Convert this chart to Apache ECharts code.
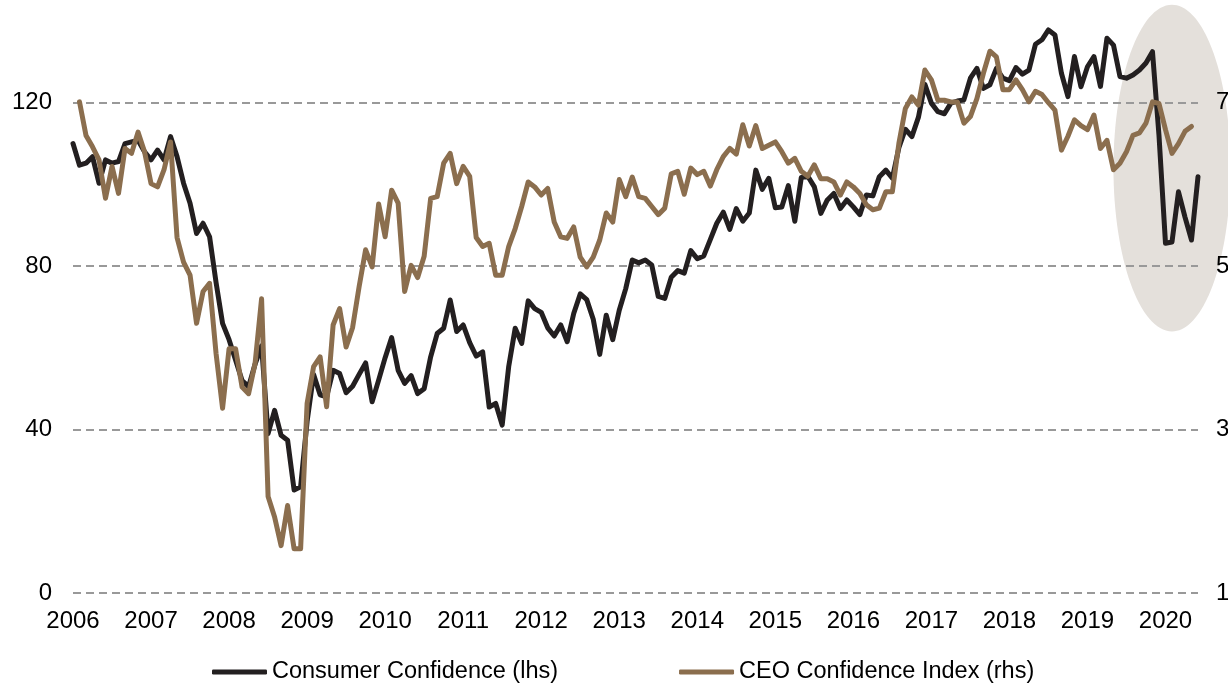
<!DOCTYPE html>
<html>
<head>
<meta charset="utf-8">
<script src="https://cdn.jsdelivr.net/npm/echarts@6/dist/echarts.min.js"></script>
<style>
  html, body { margin: 0; padding: 0; background: #fff; }
  #chart { width: 1228px; height: 683px; }
</style>
</head>
<body>
<div id="chart"></div>
<script>
  // monthly data, Apr 2006 .. Sep 2020
  const startYear = 2006
  const startMonth = 4
  const yearLabels = ['2006','2007','2008','2009','2010','2011','2012','2013','2014','2015','2016','2017','2018','2019','2020']

  const consumerConfidence = [
    110, 104.7, 105.2, 106.8, 100.3, 106, 105.2, 105.6, 110, 110.4, 110.8, 108,
    106, 108.4, 106, 111.7, 106.8, 100.3, 95.4, 88, 90.5, 87.2, 76, 66,
    62, 57, 52, 50.5, 56, 60.5, 39, 44.7, 38.6, 37.4, 25.2, 26,
    42, 53.5, 48.5, 48, 54.5, 53.7, 49, 50.6, 53.5, 56.3, 46.8, 52.1,
    57.6, 62.5, 54.5, 51.3, 53.2, 48.8, 50, 57.8, 63.5, 64.8, 71.7, 64,
    65.6, 61.3, 58, 59, 45.5, 46.4, 41.1, 55.4, 64.8, 61.1, 71.5, 69.6,
    68.7, 64.9, 62.9, 65.6, 61.5, 68.4, 73.2, 71.8, 67, 58.4, 68, 62,
    69.2, 74.5, 81.5, 80.8, 81.5, 80.3, 72.6, 72.1, 77.3, 78.9, 78.3, 83.8,
    81.8, 82.5, 86.5, 90.5, 93.2, 89, 94.1, 91, 93, 103.5, 98.8, 101.5,
    94.3, 94.5, 99.7, 91, 101.7, 102, 99.4, 92.9, 96.2, 97.8, 94.1, 96.2,
    94.5, 92.6, 97.4, 97.2, 101.9, 103.5, 101.5, 109, 113.5, 111.7, 116.4, 124.5,
    119.9, 117.8, 117.3, 119.9, 120.4, 120.7, 126, 128.4, 123.5, 124.4, 128.4, 126,
    125.4, 128.6, 127, 128, 134.3, 135.4, 137.8, 136.6, 127.2, 121.5, 131.3, 123.9,
    128.8, 131.3, 124, 135.8, 134.1, 126.4, 126, 126.8, 128, 129.7, 132.5, 112,
    85.6, 85.9, 98.2, 92, 86.4, 101.9
  ]

  const ceoConfidence = [
    null, 70.1, 66, 64.6, 63, 58.3, 62.2, 58.9, 64.4, 63.8, 66.4, 64,
    60.1, 59.7, 61.8, 65.2, 53.5, 50.5, 48.9, 43, 46.9, 47.9, 39.3, 32.6,
    39.9, 39.9, 35.2, 34.4, 38.1, 46, 21.8, 19.3, 15.8, 20.7, 15.4, 15.4,
    33.2, 37.7, 38.9, 32.8, 42.8, 44.8, 40.1, 42.5, 47.5, 52, 49.9, 57.6,
    53.6, 59.3, 57.7, 46.9, 50.1, 48.6, 51.2, 58.3, 58.5, 62.6, 63.8, 60.1,
    62.2, 61, 53.5, 52.4, 52.8, 48.9, 48.9, 52.4, 54.6, 57.3, 60.3, 59.7,
    58.7, 59.5, 55.4, 53.6, 53.4, 54.8, 51.1, 49.9, 51.1, 53.2, 56.5, 55.4,
    60.6, 58.5, 60.9, 58.5, 58.3, 57.3, 56.3, 57.1, 61.3, 61.6, 58.8, 62,
    61.2, 61.6, 59.8, 61.8, 63.4, 64.4, 63.7, 67.3, 64.7, 67.2, 64.4, 64.8,
    65.2, 64, 62.6, 63.2, 61.6, 61, 62.4, 60.7, 60.7, 60.3, 58.7, 60.3,
    59.7, 58.9, 57.5, 56.9, 57.1, 59.1, 59.1, 65, 69.3, 70.7, 69.7, 74,
    72.8, 70.3, 70.3, 70.1, 70.1, 67.5, 68.3, 70.5, 73.6, 76.3, 75.6, 71.6,
    71.6, 72.8, 71.6, 70.1, 71.4, 71, 70, 69.1, 64.2, 65.9, 67.9, 67.2,
    66.7, 68.5, 64.4, 65.4, 61.8, 62.6, 64, 66, 66.3, 67.5, 70.1, 69.9,
    66.7, 63.8, 65, 66.5, 67.1, null
  ]

  // shaded 2020 area: [category index, lhs value] centre and radii
  const highlightCenter = [169, 104]
  const highlightRadius = [9, 40]

  const months = []
  for (let i = 0; i < consumerConfidence.length; i++) {
    const m = startMonth - 1 + i
    months.push((startYear + Math.floor(m / 12)) + '-' + String(m % 12 + 1).padStart(2, '0'))
  }

  const font = 'Liberation Sans, Arial, sans-serif'
  const gridLine = { show: true, showMaxLine: false, lineStyle: { color: '#999', width: 2, type: [8, 5] } }

  const chart = echarts.init(document.getElementById('chart'))
  chart.setOption({
    animation: false,
    grid: { left: 73, right: 30, top: 21, bottom: 90, outerBoundsMode: 'none', containLabel: false },
    legend: {
      left: 207,
      top: 655,
      itemWidth: 55,
      itemHeight: 5,
      itemGap: 121,
      icon: 'roundRect',
      data: ['Consumer Confidence (lhs)', 'CEO Confidence Index (rhs)'],
      textStyle: { fontFamily: font, fontSize: 23.5, color: '#000' }
    },
    xAxis: {
      type: 'category',
      data: months,
      boundaryGap: false,
      axisLine: { show: false },
      axisTick: { show: false },
      splitLine: { show: false },
      axisLabel: {
        interval: 11,
        margin: 16,
        fontFamily: font,
        fontSize: 24,
        color: '#000',
        formatter: v => yearLabels[yearLabels.indexOf(v.slice(0, 4))]
      }
    },
    yAxis: [
      {
        type: 'value',
        min: 0,
        max: 140,
        interval: 40,
        axisLine: { show: false },
        axisTick: { show: false },
        splitLine: gridLine,
        axisLabel: { showMaxLabel: false, margin: 21, fontFamily: font, fontSize: 24, color: '#000' }
      },
      {
        type: 'value',
        min: 10,
        max: 80,
        interval: 20,
        axisLine: { show: false },
        axisTick: { show: false },
        splitLine: { show: false },
        axisLabel: { showMaxLabel: false, margin: 18, fontFamily: font, fontSize: 24, color: '#000' }
      }
    ],
    series: [
      {
        type: 'custom',
        silent: true,
        z: -1,
        data: [highlightCenter],
        renderItem: (params, api) => {
          const c = api.coord(highlightCenter)
          const ex = api.coord([highlightCenter[0] + highlightRadius[0], highlightCenter[1] + highlightRadius[1]])
          return {
            type: 'ellipse',
            shape: { cx: c[0], cy: c[1], rx: Math.abs(ex[0] - c[0]), ry: Math.abs(c[1] - ex[1]) },
            style: { fill: '#e4e0db' }
          }
        }
      },
      {
        name: 'Consumer Confidence (lhs)',
        type: 'line',
        data: consumerConfidence,
        yAxisIndex: 0,
        showSymbol: false,
        color: '#231f20',
        lineStyle: { width: 5, join: 'round', cap: 'round' }
      },
      {
        name: 'CEO Confidence Index (rhs)',
        type: 'line',
        data: ceoConfidence,
        yAxisIndex: 1,
        showSymbol: false,
        color: '#8b6e4e',
        lineStyle: { width: 5, join: 'round', cap: 'round' }
      }
    ]
  })
</script>
</body>
</html>
